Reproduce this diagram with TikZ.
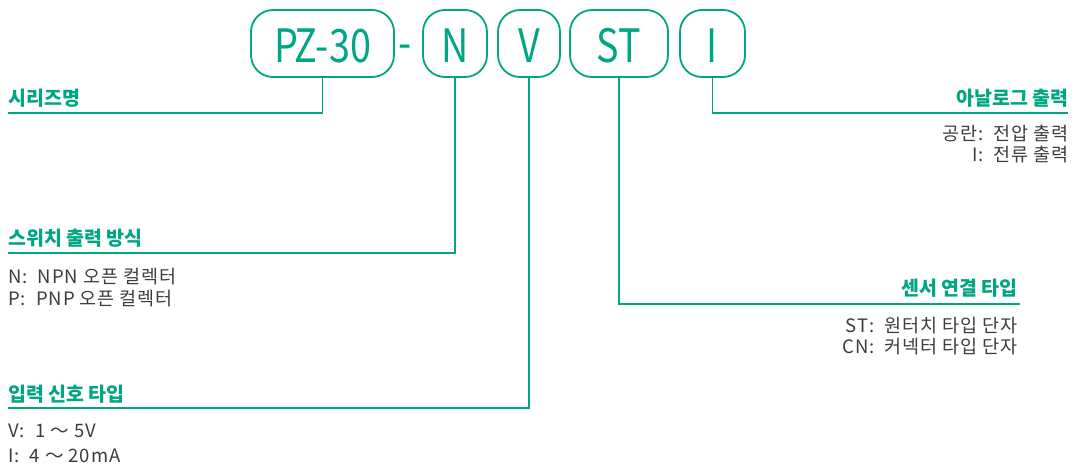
\documentclass[tikz,border=0pt]{standalone}
\usepackage{fontspec}
\setmainfont{Noto Sans CJK KR}
\newfontfamily\codefont[FakeStretch=0.82]{Noto Sans CJK KR}
\newfontfamily\descfont[LetterSpace=5]{Noto Sans CJK KR}
\definecolor{pzgreen}{RGB}{0,166,132}
\definecolor{pzgrey}{RGB}{60,60,60}
\begin{document}
\begin{tikzpicture}[x=1pt, y=-1pt,
  code/.style={draw=pzgreen, line width=1.8pt, rounded corners=22pt, text=pzgreen,
    font=\codefont\fontsize{46}{46}\selectfont, inner sep=0pt, minimum height=67pt,
    text height=37pt, text depth=0pt},
  head/.style={text=pzgreen, font=\bfseries\fontsize{19.5}{19.5}\selectfont, inner sep=0pt},
  desc/.style={text=pzgrey, font=\descfont\fontsize{18.5}{18.5}\selectfont, inner sep=0pt},
  link/.style={draw=pzgreen, line width=1.5pt}]
\useasboundingbox (0,0) rectangle (1072,466);
\node[code, minimum width=143pt] (pz) at (322.5,43.5){PZ-30};
\node[code, draw=none] (dash) at (405.5,41){-};
\node[code, minimum width=64pt] (n) at (455,43.5){N};
\node[code, minimum width=62pt] (v) at (529,43.5){V};
\node[code, minimum width=98pt] (st) at (619,43.5){ST};
\node[code, minimum width=65pt] (i) at (712.5,43.5){I};
\coordinate (pzend) at (8,113);
\coordinate (nend) at (8,253);
\coordinate (vend) at (8,408);
\coordinate (stend) at (1020,304);
\coordinate (iend) at (1068,113);
\draw[link] (pz.south) |- (pzend);
\draw[link] (n.south) |- (nend);
\draw[link] (v.south) |- (vend);
\draw[link] (st.south) |- (stend);
\draw[link] (i.south) |- (iend);
\node[head, anchor=base west] (pzhead) at (8,105){시리즈명};
\node[head, anchor=base west] (nhead) at (8,245){스위치 출력 방식};
\node[desc, anchor=base west] (ndesc1) at (8,283){N\kern1pt:\ \ NPN 오픈 컬렉터};
\node[desc, anchor=base west] (ndesc2) at (8,305){P\kern1pt:\ \ PNP 오픈 컬렉터};
\node[head, anchor=base west] (vhead) at (8,401){입력 신호 타입};
\node[desc, anchor=base west] (vdesc1) at (8,437){V\kern1pt:\ \ 1 ～ 5V};
\node[desc, anchor=base west] (vdesc2) at (8,462){I\kern1pt:\ \ 4 ～ 20mA};
\node[head, anchor=base east] (sthead) at (1018,295){센서 연결 타입};
\node[desc, anchor=base east] (stdesc1) at (1018,332){ST\kern1pt:\ \ 원터치 타입 단자};
\node[desc, anchor=base east] (stdesc2) at (1018,353){CN\kern1pt:\ \ 커넥터 타입 단자};
\node[head, anchor=base east] (ihead) at (1069,105){아날로그 출력};
\node[desc, anchor=base east] (idesc1) at (1069,140){공란\kern1pt:\ \ 전압 출력};
\node[desc, anchor=base east] (idesc2) at (1069,161){I\kern1pt:\ \ 전류 출력};
\end{tikzpicture}
\end{document}
